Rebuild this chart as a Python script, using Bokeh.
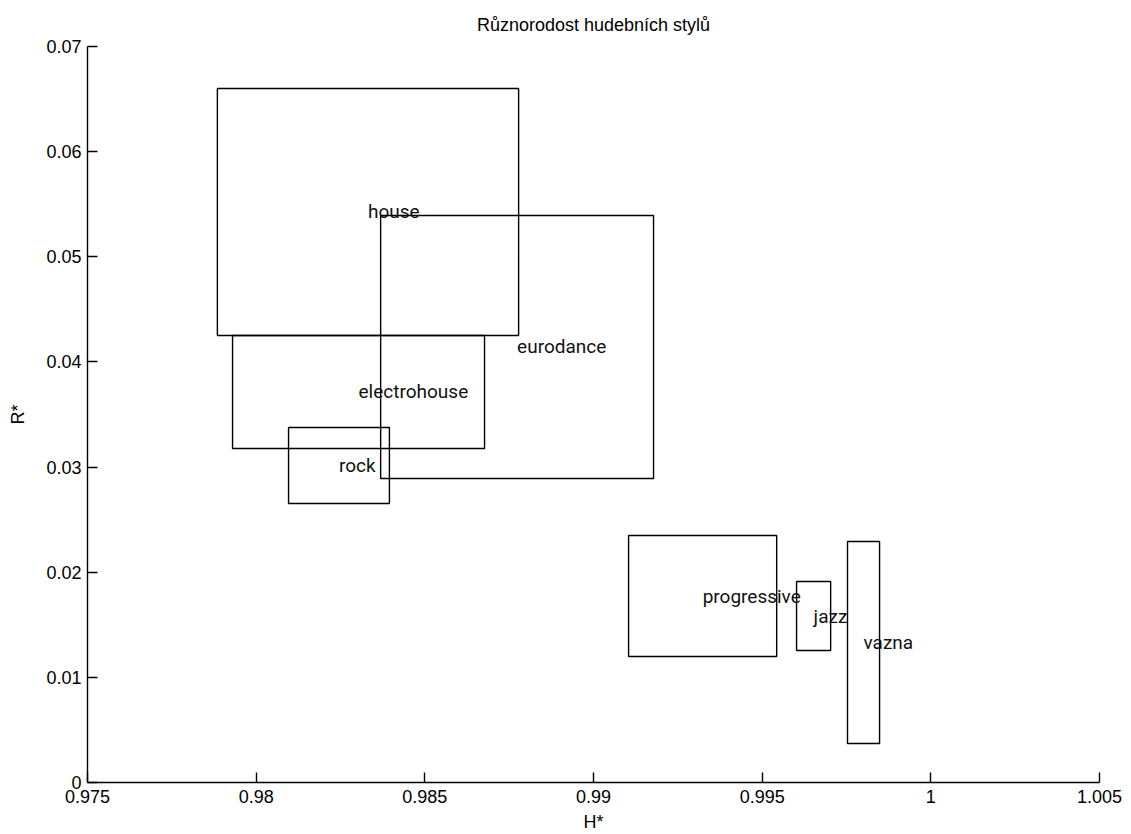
from bokeh.plotting import figure
from bokeh.models import ColumnDataSource, FixedTicker, Range1d
from bokeh.core.properties import value
from bokeh.embed import file_html
from bokeh.resources import INLINE

title_text = "Různorodost hudebních stylů"
styles = ["house", "eurodance", "electrohouse", "rock", "progressive", "jazz", "vazna"]
h_min = [0.97885, 0.98369, 0.97930, 0.98096, 0.99104, 0.99602, 0.99753]
h_max = [0.98778, 0.99178, 0.98677, 0.98395, 0.99543, 0.99703, 0.99848]
r_min = [0.04251, 0.02891, 0.03177, 0.02654, 0.01198, 0.01255, 0.00371]
r_max = [0.06601, 0.05393, 0.04251, 0.03376, 0.02349, 0.01912, 0.02292]

x_ticks = [0.975, 0.98, 0.985, 0.99, 0.995, 1.0, 1.005]
x_tick_labels = ["0.975", "0.98", "0.985", "0.99", "0.995", "1", "1.005"]
y_ticks = [0, 0.01, 0.02, 0.03, 0.04, 0.05, 0.06, 0.07]
y_tick_labels = ["0", "0.01", "0.02", "0.03", "0.04", "0.05", "0.06", "0.07"]

cx = [(a + b) / 2 for a, b in zip(h_min, h_max)]
cy = [(a + b) / 2 for a, b in zip(r_min, r_max)]

src = ColumnDataSource(dict(styles=styles, left=h_min, right=h_max,
                            bottom=r_min, top=r_max, cx=cx, cy=cy))

FONT = "Liberation Sans"

p = figure(width=1123, height=834, output_backend="svg", toolbar_location=None,
           x_range=Range1d(0.975, 1.005), y_range=Range1d(0, 0.07),
           min_border_left=87, min_border_right=24, min_border_top=46,
           min_border_bottom=52, title=title_text)
p.outline_line_color = None
p.grid.visible = False
p.background_fill_color = "white"
p.border_fill_color = "white"

p.title.align = "center"
p.title.vertical_align = "top"
p.title.text_font = FONT
p.title.text_font_size = "18px"
p.title.text_font_style = "normal"
p.title.text_color = "#000000"
p.title.standoff = 20

p.quad(left="left", right="right", bottom="bottom", top="top", source=src,
       fill_color=None, line_color="#000000", line_width=1.4)
p.text(x="cx", y="cy", text="styles", source=src, text_align="left",
       text_baseline="middle", text_font=value("Roboto"),
       text_font_size="19px", text_color="#111111")

for ax, ticks, labels in ((p.xaxis[0], x_ticks, x_tick_labels),
                          (p.yaxis[0], y_ticks, y_tick_labels)):
    ax.ticker = FixedTicker(ticks=ticks)
    ax.major_label_overrides = {t: l for t, l in zip(ticks, labels)}
    ax.major_tick_in = 10
    ax.major_tick_out = 0
    ax.minor_tick_line_color = None
    ax.axis_line_color = "#000000"
    ax.axis_line_width = 1.4
    ax.major_tick_line_color = "#000000"
    ax.major_tick_line_width = 1.4
    ax.major_label_text_font = FONT
    ax.major_label_text_font_size = "18px"
    ax.major_label_text_color = "#000000"
    ax.axis_label_text_font = FONT
    ax.axis_label_text_font_size = "18px"
    ax.axis_label_text_font_style = "normal"
    ax.axis_label_text_color = "#000000"

p.xaxis.axis_label = "H*"
p.yaxis.axis_label = "R*"
p.xaxis.major_label_standoff = 7
p.xaxis.axis_label_standoff = 6
p.yaxis.major_label_standoff = 6
p.yaxis.axis_label_standoff = 15

open("out.html", "w").write(file_html(p, INLINE))
